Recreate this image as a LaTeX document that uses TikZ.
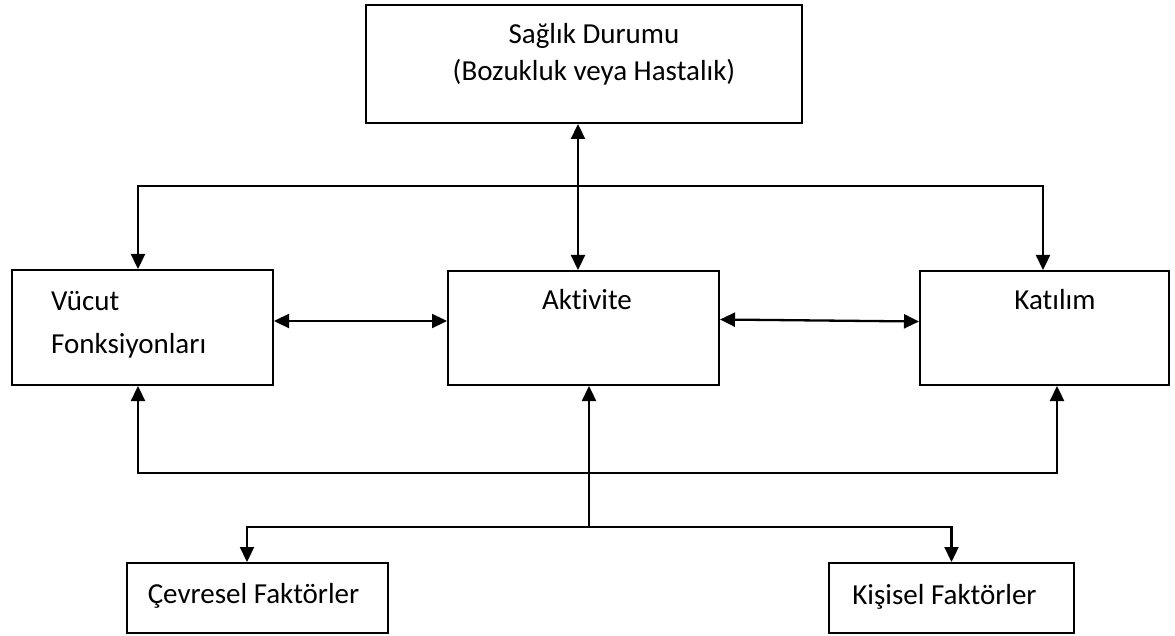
\documentclass[tikz,border=0pt]{standalone}
\usepackage{fontspec}
\setmainfont[Ligatures=NoCommon]{Carlito}
\usetikzlibrary{positioning}
\usetikzlibrary{calc}
\usetikzlibrary{arrows.meta}
\colorlet{line colour}{black}
\tikzset{
    % Filled triangle tips as in the original figure
    >={Triangle[length=15pt,width=14pt]},
%
    % Boxes and their labels
    box/.style={draw=line colour, line width=2pt, rectangle, inner sep=0pt},
    label text/.style={font=\fontsize{29}{37}\selectfont, inner sep=0pt},
    % Connectors
    link/.style={color=line colour, line width=2.3pt, <->},
    feed/.style={color=line colour, line width=2.3pt, ->},
    bus/.style={color=line colour, line width=2.3pt},
}

\begin{document}
\begin{tikzpicture}[x=1pt, y=-1pt]
\useasboundingbox (0,0) rectangle (1175,636);

% the six boxes
\node (saglik) [box, minimum width=436pt, minimum height=118pt] at (584,64) {};
\node (vucut) [box, minimum width=261pt, minimum height=115pt] at (142.5,327.5) {};
\node (aktivite) [box, minimum width=271pt, minimum height=114pt] at (583.5,328) {};
\node (katilim) [box, minimum width=249pt, minimum height=114pt] at (1044.5,328) {};
\node (cevresel) [box, minimum width=261pt, minimum height=70pt] at (257.5,598) {};
\node (kisisel) [box, minimum width=245pt, minimum height=70pt] at (951.5,598) {};

% their texts
\node (saglik text) [label text, align=center] at (594,54.5)
    {Sağlık Durumu\\ (Bozukluk veya Hastalık)};
\node (vucut text) [label text, align=left, anchor=west,
    font=\fontsize{29}{43}\selectfont] at (51,325)
    {Vücut\\Fonksiyonları};
\node (aktivite text) [label text] at (587,300) {Aktivite};
\node (katilim text) [label text] at (1055,300) {Katılım};
\node (cevresel text) [label text] at (253.5,596) {Çevresel Faktörler};
\node (kisisel text) [label text] at (944.5,597) {Kişisel Faktörler};

% connectors
\coordinate (fork) at (589,527);
\draw [link] ([xshift=-6pt]saglik.south) -- ([xshift=-6pt]saglik.south |- aktivite.north);
\draw [link] ([xshift=-4.5pt]vucut.north) -- ++(0,-83) -| ([xshift=-1.5pt]katilim.north);
\draw [link] ([yshift=6.5pt]vucut.east) -- ([yshift=6.5pt]vucut.east -| aktivite.west);
\draw [link] ([yshift=8.5pt]aktivite.east) -- ([yshift=6.5pt]katilim.west);
\draw [link] ([xshift=-4.5pt]vucut.south) -- ++(0,87) -| ([xshift=12.5pt]katilim.south);
\draw [feed] (fork) -- (fork |- aktivite.south);
\draw [link] ([xshift=-10.5pt]cevresel.north) |- (fork) -| (kisisel.north);

\end{tikzpicture}
\end{document}
